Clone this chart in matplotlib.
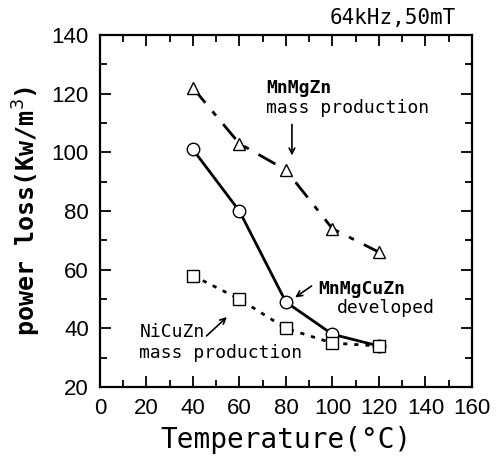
import matplotlib
matplotlib.use("Agg")
import matplotlib.pyplot as plt
from matplotlib.ticker import MultipleLocator

temps = [40, 60, 80, 100, 120]
mnmgzn = [122, 103, 94, 74, 66]
mnmgcuzn = [101, 80, 49, 38, 34]
nicuzn = [58, 50, 40, 35, 34]

num_font = ['Liberation Sans Narrow', 'Liberation Sans', 'DejaVu Sans']
mono_font = ['DejaVu Sans Mono']

fig = plt.figure(figsize=(5.02, 4.68), dpi=100)
ax = fig.add_axes([0.199, 0.173, 0.741, 0.752])

ax.plot(temps, mnmgzn, color='black', lw=2, ls=(0, (7, 4, 2, 4)),
        marker='^', ms=9, mfc='white', mec='black', mew=1)
ax.plot(temps, mnmgcuzn, color='black', lw=2, ls='-',
        marker='o', ms=9, mfc='white', mec='black', mew=1)
ax.plot(temps, nicuzn, color='black', lw=2, ls=(0, (1.5, 2.5)),
        marker='s', ms=9, mfc='white', mec='black', mew=1)

ax.set_xlim(0, 160)
ax.set_ylim(20, 140)
ax.xaxis.set_major_locator(MultipleLocator(20))
ax.xaxis.set_minor_locator(MultipleLocator(10))
ax.yaxis.set_major_locator(MultipleLocator(20))
ax.yaxis.set_minor_locator(MultipleLocator(10))
ax.tick_params(which='both', direction='in', top=True, right=True, width=1.3)
ax.tick_params(which='major', length=8, pad=8)
ax.tick_params(which='minor', length=5)
for s in ax.spines.values():
    s.set_linewidth(1.6)
for lab in ax.get_xticklabels() + ax.get_yticklabels():
    lab.set_family(num_font)
    lab.set_fontsize(16)

ax.set_xlabel('Temperature(°C)', family=mono_font, fontsize=20, labelpad=5)
ax.set_ylabel('power loss(Kw/m$^3$)', family=mono_font, fontsize=18,
              fontweight='bold', labelpad=6)

ax.text(153, 142.5, '64kHz,50mT', family=mono_font, fontsize=15,
        ha='right', va='bottom', clip_on=False)

ax.text(71.5, 122, 'MnMgZn', family=mono_font, fontsize=13, fontweight='bold',
        ha='left', va='center')
ax.text(71.5, 115, 'mass production', family=mono_font, fontsize=13,
        ha='left', va='center')
ax.annotate('', xy=(82.6, 98), xytext=(82.6, 110.5),
            arrowprops=dict(arrowstyle='->', color='black', lw=1.2))

ax.text(93.8, 53.5, 'MnMgCuZn', family=mono_font, fontsize=13, fontweight='bold',
        ha='left', va='center')
ax.text(123, 47, 'developed', family=mono_font, fontsize=13,
        ha='center', va='center')
ax.annotate('', xy=(83, 50), xytext=(92, 55),
            arrowprops=dict(arrowstyle='->', color='black', lw=1.2))

ax.text(17, 38.6, 'NiCuZn', family=mono_font, fontsize=13,
        ha='left', va='center')
ax.text(17, 31.5, 'mass production', family=mono_font, fontsize=13,
        ha='left', va='center')
ax.annotate('', xy=(55.5, 44.5), xytext=(45, 36.8),
            arrowprops=dict(arrowstyle='->', color='black', lw=1.2))

fig.savefig('out.png', dpi=100)
